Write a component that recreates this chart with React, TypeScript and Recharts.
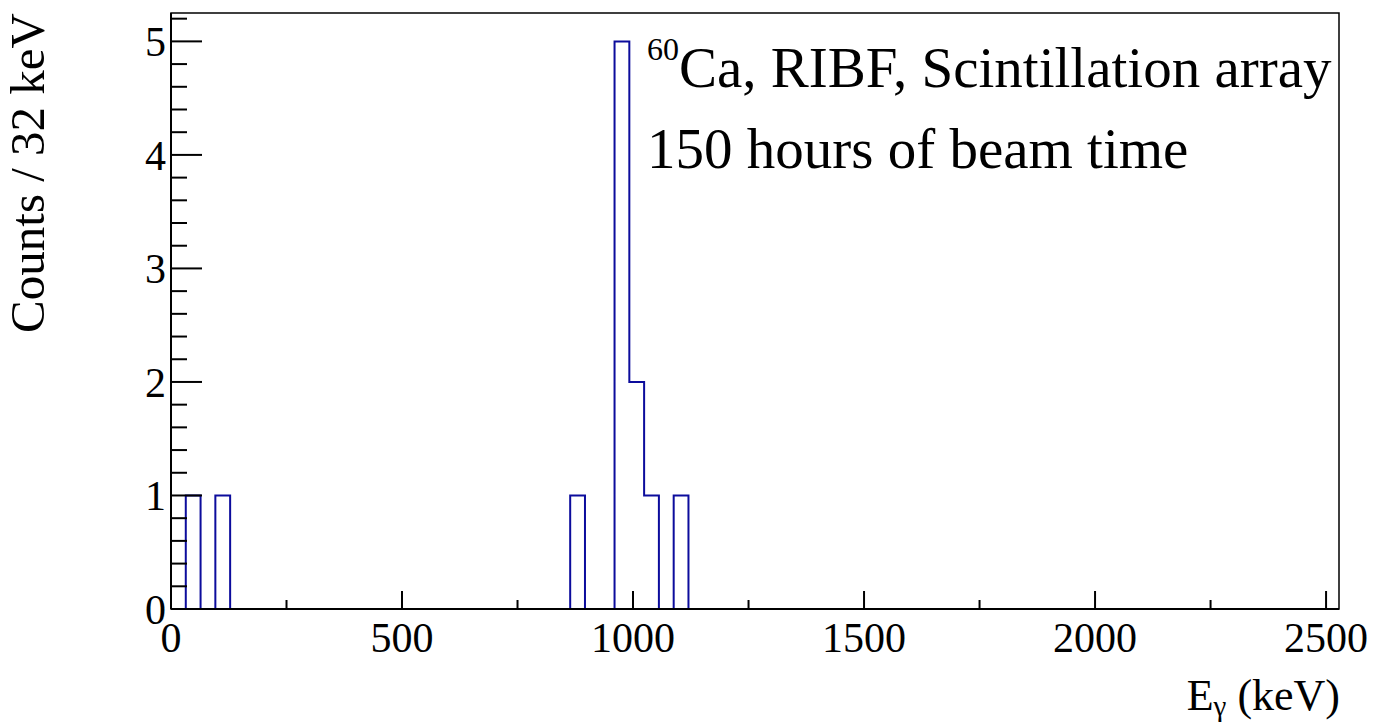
import React from "react";
import {
  ComposedChart,
  Line,
  XAxis,
  YAxis,
  ReferenceArea,
} from "recharts";

// histogram: 32 keV bins from 0 to 2528 keV, only the filled bins listed
const BIN_WIDTH = 32;
const N_BINS = 79;
const filledBinStarts = [32, 96, 864, 960, 992, 1024, 1088];
const filledCounts    = [1, 1, 1, 5, 2, 1, 1];

const xTicks = [0, 250, 500, 750, 1000, 1250, 1500, 1750, 2000, 2250, 2500];
const xLabels = [0, 500, 1000, 1500, 2000, 2500];
const yTicks = [
  0, 0.2, 0.4, 0.6, 0.8, 1, 1.2, 1.4, 1.6, 1.8, 2, 2.2, 2.4, 2.6, 2.8, 3,
  3.2, 3.4, 3.6, 3.8, 4, 4.2, 4.4, 4.6, 4.8, 5, 5.2,
];
const yLabels = [0, 1, 2, 3, 4, 5];

const X_MAX = BIN_WIDTH * N_BINS;
const Y_MAX = 5.25;

const FONT = "'Liberation Serif', 'DejaVu Serif', serif";
const HIST_BLUE = "#0c0c9c";

// step outline: one point per bin low edge, plus the closing edge
const histData = Array.from({ length: N_BINS + 1 }, (_, i) => {
  const edge = i * BIN_WIDTH;
  const k = filledBinStarts.indexOf(edge);
  return { edge, count: k >= 0 ? filledCounts[k] : 0 };
});

function XTick({ x, y, payload }: any) {
  const major = xLabels.includes(payload.value);
  return (
    <g>
      <line x1={x} x2={x} y1={y} y2={y - (major ? 18 : 9)} stroke="#000" strokeWidth={2} />
      {major && (
        <text x={x} y={y + 43} textAnchor="middle" fontFamily={FONT} fontSize={42} fill="#000">
          {payload.value}
        </text>
      )}
    </g>
  );
}

function YTick({ x, y, payload }: any) {
  const major = yLabels.some((v) => Math.abs(v - payload.value) < 1e-6);
  return (
    <g>
      <line x1={x} x2={x + (major ? 31 : 16)} y1={y} y2={y} stroke="#000" strokeWidth={2} />
      {major && (
        <text x={x - 5} y={y + 15} textAnchor="end" fontFamily={FONT} fontSize={42} fill="#000">
          {Math.round(payload.value)}
        </text>
      )}
    </g>
  );
}

export default function App() {
  return (
    <div style={{ position: "absolute", left: 0, top: 0, background: "#fff" }}>
      <ComposedChart
        width={1374}
        height={724}
        data={histData}
        margin={{ top: 13, right: 35, bottom: 114, left: 170 }}
      >
        <ReferenceArea
          x1={0}
          x2={X_MAX}
          y1={0}
          y2={Y_MAX}
          fill="none"
          fillOpacity={0}
          stroke="#000"
          strokeWidth={1.5}
          strokeOpacity={1}
        />
        <Line
          dataKey="count"
          type="stepAfter"
          stroke={HIST_BLUE}
          strokeWidth={2}
          dot={false}
          activeDot={false}
          isAnimationActive={false}
        />
        <XAxis
          dataKey="edge"
          type="number"
          domain={[0, X_MAX]}
          ticks={xTicks}
          interval={0}
          height={1}
          tickSize={0}
          tickMargin={0}
          tickLine={false}
          axisLine={{ stroke: "#000", strokeWidth: 2 }}
          tick={(p: any) => <XTick {...p} />}
          allowDataOverflow
        />
        <YAxis
          type="number"
          domain={[0, Y_MAX]}
          ticks={yTicks}
          interval={0}
          width={1}
          tickSize={0}
          tickMargin={0}
          tickLine={false}
          axisLine={{ stroke: "#000", strokeWidth: 2 }}
          tick={(p: any) => <YTick {...p} />}
          allowDataOverflow
        />
        <text
          transform="translate(44, 13) rotate(-90)"
          textAnchor="end"
          fontFamily={FONT}
          fontSize={49}
          fill="#000"
        >
          Counts / 32 keV
        </text>
        <text x={1340} y={710} textAnchor="end" fontFamily={FONT} fontSize={44} fill="#000">
          E
          <tspan fontSize={29} dy={6}>γ</tspan>
          <tspan dy={-6}> (keV)</tspan>
        </text>
        <text x={647} y={87} fontFamily={FONT} fontSize={57} fill="#000">
          <tspan fontSize={32} dy={-27}>60</tspan>
          <tspan dy={27}>Ca, RIBF, Scintillation array</tspan>
        </text>
        <text x={647} y={168} fontFamily={FONT} fontSize={57} fill="#000">
          150 hours of beam time
        </text>
      </ComposedChart>
    </div>
  );
}
